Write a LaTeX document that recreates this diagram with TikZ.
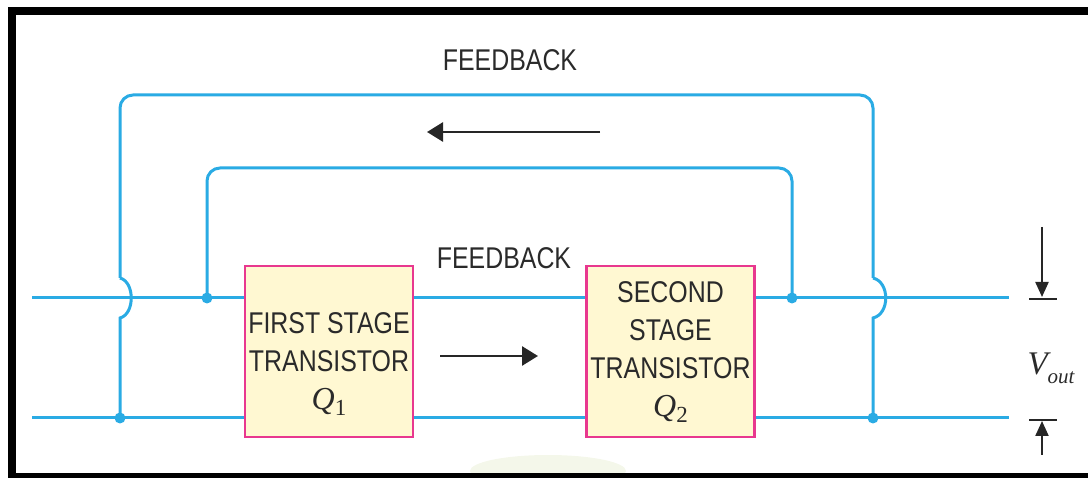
\documentclass[tikz,border=0pt]{standalone}
\usepackage{fontspec}
\usetikzlibrary{arrows.meta}
\newfontfamily\lab[FakeStretch=0.83]{Liberation Sans}
\newfontfamily\ser{Liberation Serif}
\definecolor{wirec}{HTML}{2AABE4}
\definecolor{boxfill}{HTML}{FFF8D2}
\definecolor{boxline}{HTML}{E8388F}
\definecolor{txt}{HTML}{2A2A2A}
\definecolor{ghost}{HTML}{F4F7EA}
\tikzset{
  wire/.style={draw=wirec,line width=3pt},
  dotn/.style={circle,fill=wirec,inner sep=0pt,minimum size=11pt},
  stagebox/.style={draw=boxline,fill=boxfill,line width=2.5pt,minimum width=168pt,minimum height=171pt,inner sep=0pt},
  lbl/.style={font=\lab\fontsize{30}{38}\selectfont,text=txt,inner sep=0pt,align=center},
  flow/.style={draw=black!85,line width=2.8pt,-{Triangle[length=16pt,width=19pt]}},
  meas/.style={draw=black!85,line width=2.2pt,-{Triangle[length=15pt,width=13pt]}},
  bar/.style={draw=black!85,line width=2.5pt}
}
\begin{document}
\begin{tikzpicture}[x=1pt,y=-1pt]
\useasboundingbox (0,0) rectangle (1088,478);
% faint remnant
\fill[ghost] (548,471) ellipse [x radius=78pt, y radius=16pt];
% frame
\fill[black] (8,7) rectangle (1088,15);
\fill[black] (8,7) rectangle (16,478);
\fill[black] (8,473) rectangle (1088,478);
% wire end points
\coordinate (inT) at (32,298);
\coordinate (outT) at (1009,298);
\coordinate (inB) at (32,418);
\coordinate (outB) at (1009,418);
% main wires
\draw[wire] (inT) -- (outT);
\draw[wire] (inB) -- (outB);
% junction dots
\node[dotn] (d1) at (207,298) {};
\node[dotn] (d2) at (792,298) {};
\node[dotn] (d3) at (120,418) {};
\node[dotn] (d4) at (873,418) {};
% inner feedback loop
\draw[wire,rounded corners=13pt] (d1.center) -- (207,168) -- (792,168) -- (d2.center);
% outer feedback loop with crossover humps
\coordinate (hl1) at (120,318);
\coordinate (hl2) at (120,278);
\coordinate (hr1) at (873,278);
\coordinate (hr2) at (873,318);
\draw[wire] (d3.center) -- (hl1) .. controls (135,314) and (135,282) .. (hl2);
\draw[wire,rounded corners=13pt] (hl2) -- (120,95) -- (873,95) -- (hr1);
\draw[wire] (hr1) .. controls (890,282) and (890,314) .. (hr2) -- (d4.center);
% stage boxes
\node[stagebox] (q1) at (329,351.5) {};
\node[stagebox] (q2) at (670.5,351.5) {};
\node[lbl] (t1) at (329,364) {FIRST STAGE\\TRANSISTOR\\{\ser\itshape\fontsize{32}{32}\selectfont Q}{\ser\fontsize{23}{23}\selectfont\raisebox{-6pt}{1}}};
\node[lbl] (t2) at (670.5,352) {SECOND\\STAGE\\TRANSISTOR\\{\ser\itshape\fontsize{32}{32}\selectfont Q}{\ser\fontsize{23}{23}\selectfont\raisebox{-6pt}{2}}};
% labels
\node[lbl] (fb1) at (510,60) {FEEDBACK};
\node[lbl] (fb2) at (504,258) {FEEDBACK};
% flow arrows
\coordinate (a1s) at (600,132);
\coordinate (a1e) at (427,132);
\draw[flow] (a1s) -- (a1e);
\coordinate (a2s) at (440,356);
\coordinate (a2e) at (538,356);
\draw[flow] (a2s) -- (a2e);
% Vout indicator
\coordinate (vts) at (1042,227);
\coordinate (vte) at (1042,297);
\coordinate (vtl) at (1029,299);
\coordinate (vtr) at (1057,299);
\draw[meas] (vts) -- (vte);
\draw[bar] (vtl) -- (vtr);
\coordinate (vbs) at (1042,455);
\coordinate (vbe) at (1042,421);
\coordinate (vbl) at (1029,420);
\coordinate (vbr) at (1057,420);
\draw[meas] (vbs) -- (vbe);
\draw[bar] (vbl) -- (vbr);
\node[inner sep=0pt,text=txt] (vout) at (1051,368) {{\ser\itshape\fontsize{33}{33}\selectfont V}{\ser\itshape\fontsize{21}{21}\selectfont\raisebox{-9pt}{out}}};
\end{tikzpicture}
\end{document}
